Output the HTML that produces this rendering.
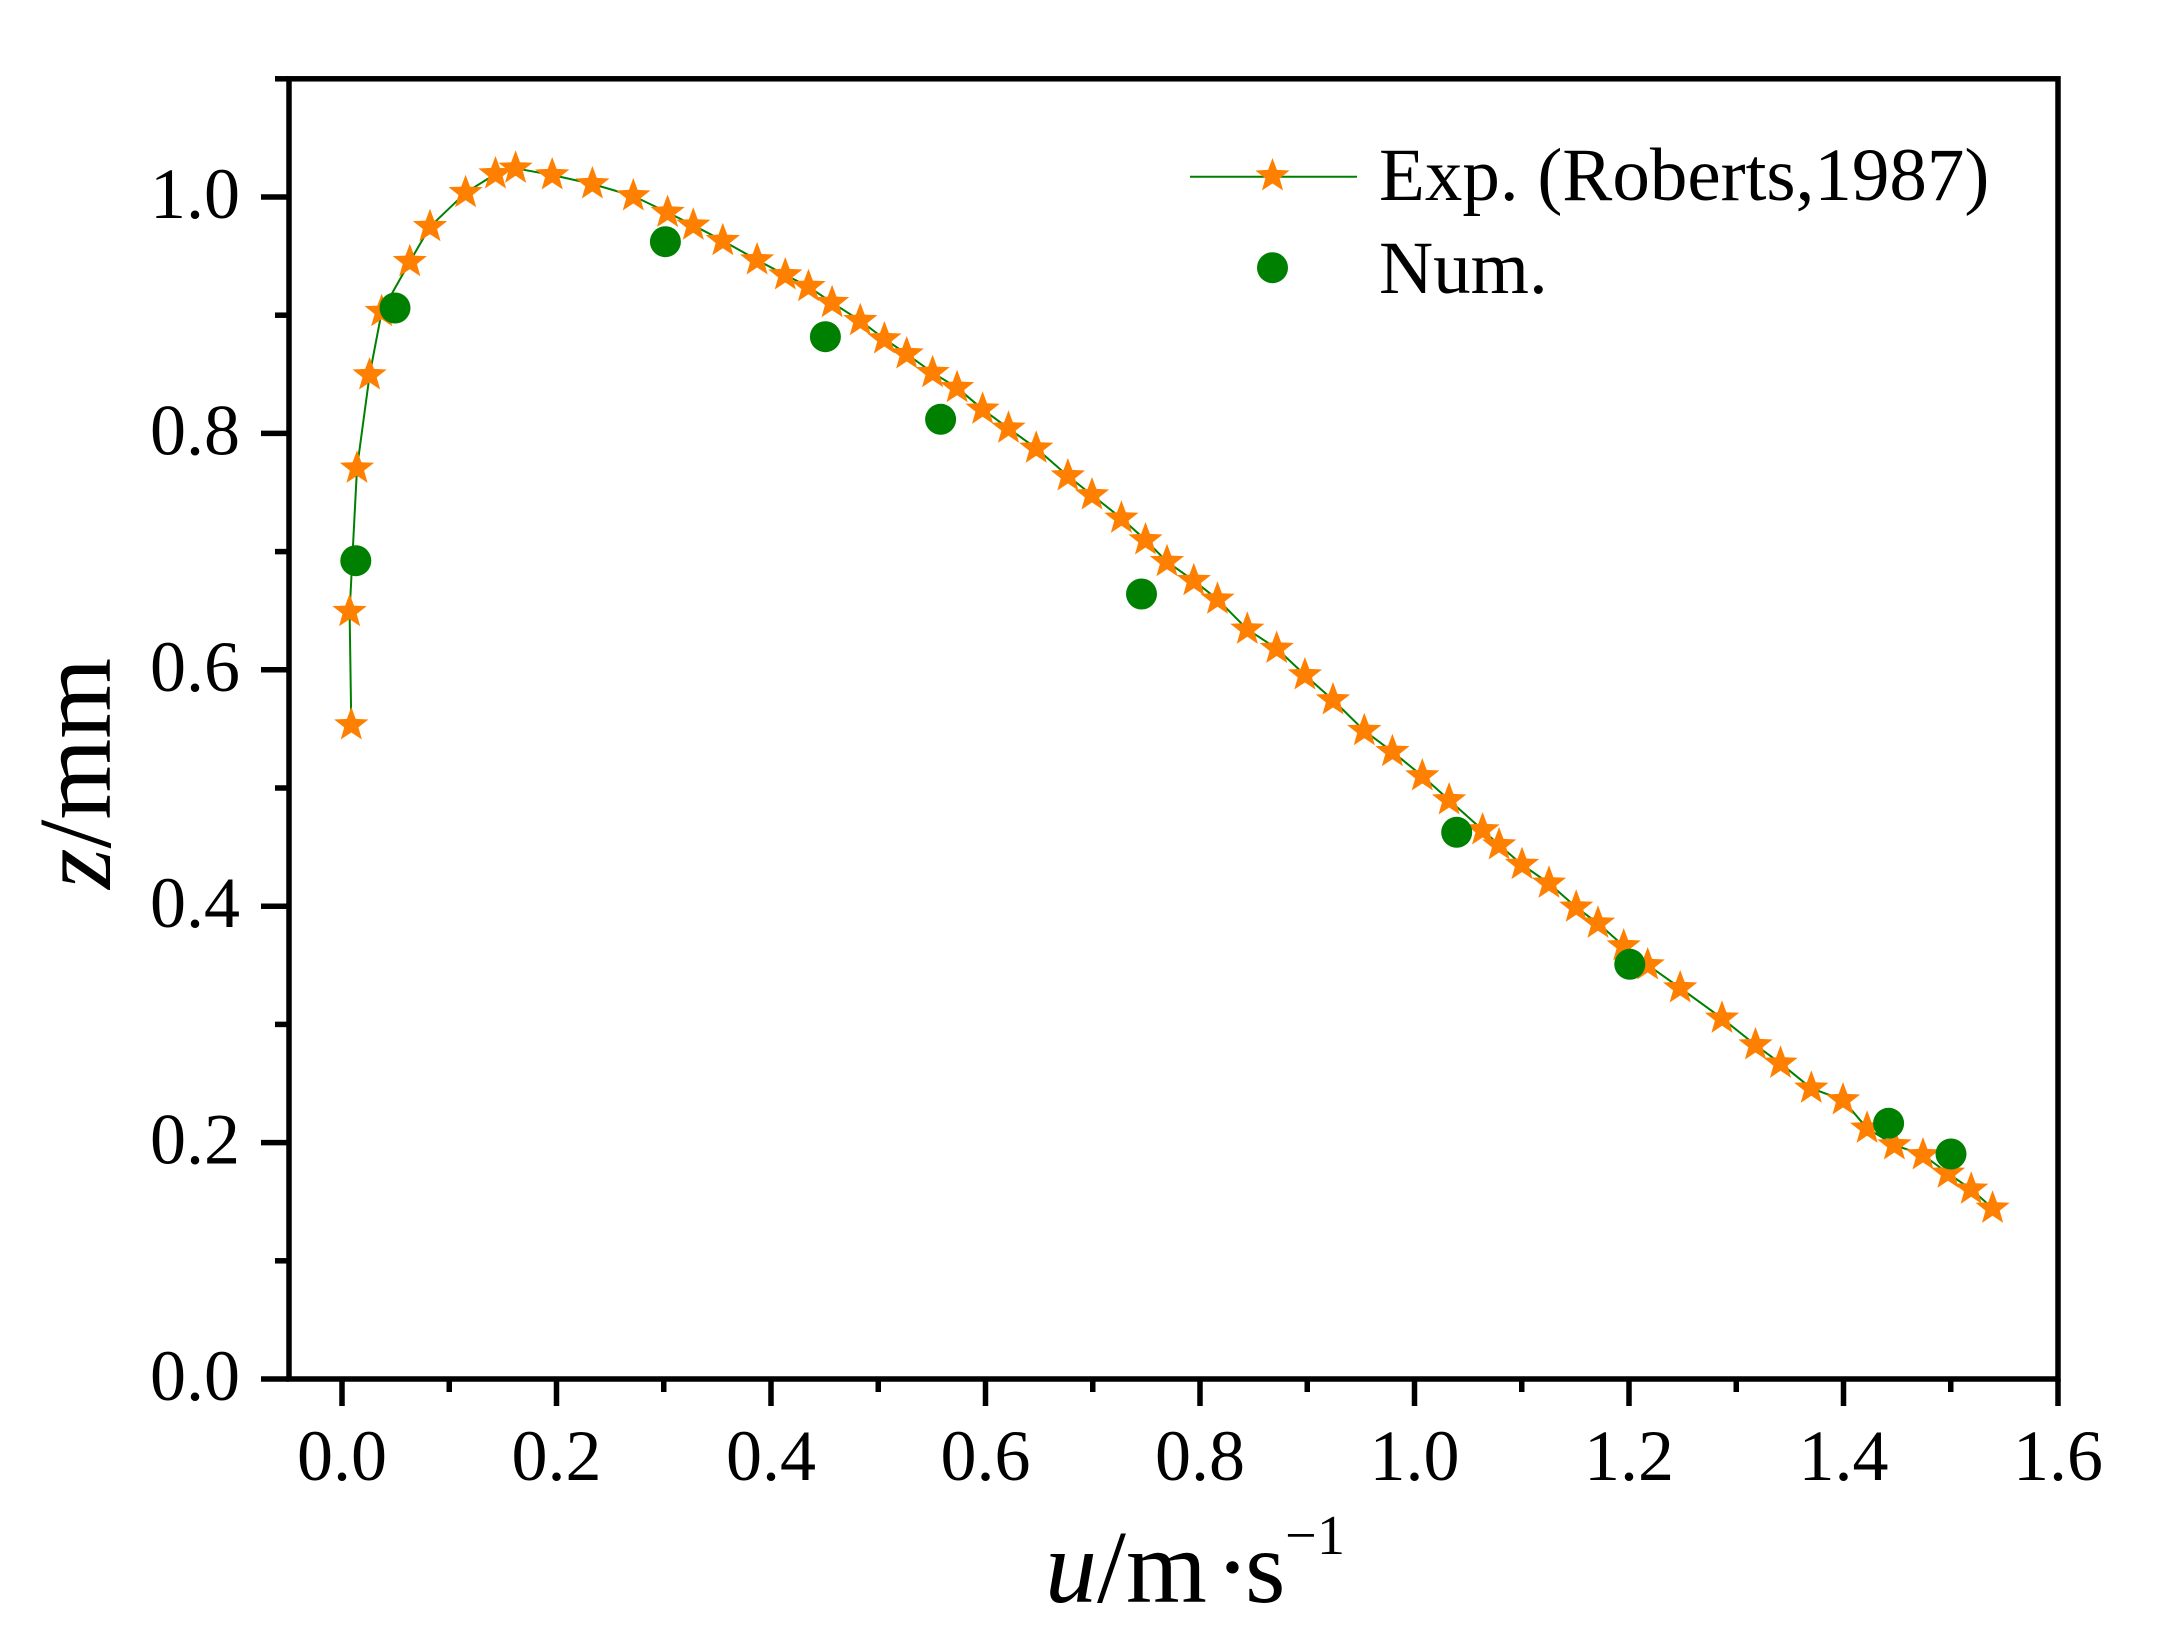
<!DOCTYPE html>
<html><head><meta charset="utf-8"><style>
html,body{margin:0;padding:0;background:#fff;}
svg{display:block;}
text{font-family:"Liberation Serif","Times New Roman",serif;fill:#000;}
</style></head><body>
<svg width="2160" height="1641" viewBox="0 0 2160 1641" xmlns="http://www.w3.org/2000/svg">
<rect width="2160" height="1641" fill="#fff"/>
<defs>
<path id="st" d="M0,-18 L4.41,-6.07 L17.12,-5.56 L7.13,2.32 L10.58,14.56 L0,7.5 L-10.58,14.56 L-7.13,2.32 L-17.12,-5.56 L-4.41,-6.07 Z" fill="#FF8000"/>
</defs>
<!-- frame -->
<rect x="289" y="78.8" width="1769" height="1300.2" fill="none" stroke="#000" stroke-width="5.5"/>
<!-- y ticks -->
<g stroke="#000" stroke-width="5.5">
<line x1="261" y1="1379" x2="289" y2="1379"/>
<line x1="275" y1="1260.8" x2="289" y2="1260.8"/>
<line x1="261" y1="1142.6" x2="289" y2="1142.6"/>
<line x1="275" y1="1024.4" x2="289" y2="1024.4"/>
<line x1="261" y1="906.2" x2="289" y2="906.2"/>
<line x1="275" y1="788" x2="289" y2="788"/>
<line x1="261" y1="669.8" x2="289" y2="669.8"/>
<line x1="275" y1="551.6" x2="289" y2="551.6"/>
<line x1="261" y1="433.4" x2="289" y2="433.4"/>
<line x1="275" y1="315.2" x2="289" y2="315.2"/>
<line x1="261" y1="197" x2="289" y2="197"/>
<line x1="275" y1="78.8" x2="289" y2="78.8"/>
<!-- x ticks -->
<line x1="342" y1="1379" x2="342" y2="1406"/>
<line x1="449.25" y1="1379" x2="449.25" y2="1392"/>
<line x1="556.5" y1="1379" x2="556.5" y2="1406"/>
<line x1="663.75" y1="1379" x2="663.75" y2="1392"/>
<line x1="771" y1="1379" x2="771" y2="1406"/>
<line x1="878.25" y1="1379" x2="878.25" y2="1392"/>
<line x1="985.5" y1="1379" x2="985.5" y2="1406"/>
<line x1="1092.75" y1="1379" x2="1092.75" y2="1392"/>
<line x1="1200" y1="1379" x2="1200" y2="1406"/>
<line x1="1307.25" y1="1379" x2="1307.25" y2="1392"/>
<line x1="1414.5" y1="1379" x2="1414.5" y2="1406"/>
<line x1="1521.75" y1="1379" x2="1521.75" y2="1392"/>
<line x1="1629" y1="1379" x2="1629" y2="1406"/>
<line x1="1736.25" y1="1379" x2="1736.25" y2="1392"/>
<line x1="1843.5" y1="1379" x2="1843.5" y2="1406"/>
<line x1="1950.75" y1="1379" x2="1950.75" y2="1392"/>
<line x1="2058" y1="1379" x2="2058" y2="1406"/>
</g>
<!-- y tick labels -->
<g font-size="72" text-anchor="end">
<text x="240" y="1400">0.0</text>
<text x="240" y="1163.6">0.2</text>
<text x="240" y="927.2">0.4</text>
<text x="240" y="690.8">0.6</text>
<text x="240" y="454.4">0.8</text>
<text x="240" y="218">1.0</text>
</g>
<!-- x tick labels -->
<g font-size="72" text-anchor="middle">
<text x="342" y="1480">0.0</text>
<text x="556.5" y="1480">0.2</text>
<text x="771" y="1480">0.4</text>
<text x="985.5" y="1480">0.6</text>
<text x="1200" y="1480">0.8</text>
<text x="1414.5" y="1480">1.0</text>
<text x="1629" y="1480">1.2</text>
<text x="1843.5" y="1480">1.4</text>
<text x="2058" y="1480">1.6</text>
</g>
<!-- axis titles -->
<text transform="translate(110,889) rotate(-90)" font-size="104"><tspan font-style="italic">z</tspan>/mm</text>
<text x="1045" y="1602" font-size="104" font-style="italic">u</text>
<text x="1097" y="1602" font-size="104">/</text>
<text x="1126" y="1602" font-size="104">m</text>
<text x="1232.5" y="1602" font-size="104" text-anchor="middle">·</text>
<text x="1245" y="1602" font-size="104">s</text>
<text x="1285" y="1554" font-size="56">−</text>
<text x="1317" y="1554" font-size="56">1</text>
<!-- series line -->
<polyline fill="none" stroke="#008000" stroke-width="2" stroke-linejoin="round" points="351.3,725 349.6,611.7 357,468.3 369.6,375 381.7,311.7 409.8,261.7 430,226.7 465.6,192.7 495.5,174 515.6,168.3 552.2,175 592.4,184 633.3,196 667.6,212.5 693.3,225.3 722.8,240.7 757.1,260 785.3,275 808.5,286.7 832.1,302.7 860.3,320.7 884.4,339 906.7,354 932.6,372.7 957.1,387.7 982.6,409.3 1008.5,428.3 1036.2,448.3 1067.9,476 1092,495 1121.4,518.3 1145.5,540 1167,561.7 1193.8,580.7 1217.5,599.3 1247.3,629.3 1276.7,648.5 1304.9,675 1333,700 1364.3,730.7 1392.4,751.7 1422.3,776 1449.1,800 1482.6,830 1499.1,845 1522,864.6 1549,883.3 1576.2,907.3 1598,923.3 1623.7,946 1647.7,965 1680.2,988 1722,1018.3 1755.5,1045 1780.5,1063.3 1811.3,1088.3 1843,1100 1867.1,1128.3 1894.4,1145 1923,1155 1948,1173.3 1971.2,1189.3 1992.6,1208.3"/>
<!-- stars -->
<g>
<use href="#st" x="351.3" y="725"/><use href="#st" x="349.6" y="611.7"/><use href="#st" x="357" y="468.3"/><use href="#st" x="369.6" y="375"/><use href="#st" x="381.7" y="311.7"/><use href="#st" x="409.8" y="261.7"/><use href="#st" x="430" y="226.7"/><use href="#st" x="465.6" y="192.7"/><use href="#st" x="495.5" y="174"/><use href="#st" x="515.6" y="168.3"/><use href="#st" x="552.2" y="175"/><use href="#st" x="592.4" y="184"/><use href="#st" x="633.3" y="196"/><use href="#st" x="667.6" y="212.5"/><use href="#st" x="693.3" y="225.3"/><use href="#st" x="722.8" y="240.7"/><use href="#st" x="757.1" y="260"/><use href="#st" x="785.3" y="275"/><use href="#st" x="808.5" y="286.7"/><use href="#st" x="832.1" y="302.7"/><use href="#st" x="860.3" y="320.7"/><use href="#st" x="884.4" y="339"/><use href="#st" x="906.7" y="354"/><use href="#st" x="932.6" y="372.7"/><use href="#st" x="957.1" y="387.7"/><use href="#st" x="982.6" y="409.3"/><use href="#st" x="1008.5" y="428.3"/><use href="#st" x="1036.2" y="448.3"/><use href="#st" x="1067.9" y="476"/><use href="#st" x="1092" y="495"/><use href="#st" x="1121.4" y="518.3"/><use href="#st" x="1145.5" y="540"/><use href="#st" x="1167" y="561.7"/><use href="#st" x="1193.8" y="580.7"/><use href="#st" x="1217.5" y="599.3"/><use href="#st" x="1247.3" y="629.3"/><use href="#st" x="1276.7" y="648.5"/><use href="#st" x="1304.9" y="675"/><use href="#st" x="1333" y="700"/><use href="#st" x="1364.3" y="730.7"/><use href="#st" x="1392.4" y="751.7"/><use href="#st" x="1422.3" y="776"/><use href="#st" x="1449.1" y="800"/><use href="#st" x="1482.6" y="830"/><use href="#st" x="1499.1" y="845"/><use href="#st" x="1522" y="864.6"/><use href="#st" x="1549" y="883.3"/><use href="#st" x="1576.2" y="907.3"/><use href="#st" x="1598" y="923.3"/><use href="#st" x="1623.7" y="946"/><use href="#st" x="1647.7" y="965"/><use href="#st" x="1680.2" y="988"/><use href="#st" x="1722" y="1018.3"/><use href="#st" x="1755.5" y="1045"/><use href="#st" x="1780.5" y="1063.3"/><use href="#st" x="1811.3" y="1088.3"/><use href="#st" x="1843" y="1100"/><use href="#st" x="1867.1" y="1128.3"/><use href="#st" x="1894.4" y="1145"/><use href="#st" x="1923" y="1155"/><use href="#st" x="1948" y="1173.3"/><use href="#st" x="1971.2" y="1189.3"/><use href="#st" x="1992.6" y="1208.3"/>
</g>
<!-- circles -->
<g fill="#008000">
<circle cx="355.8" cy="560.7" r="15.5"/>
<circle cx="395" cy="308" r="15.5"/>
<circle cx="665.4" cy="241.7" r="15.5"/>
<circle cx="825.4" cy="336.7" r="15.5"/>
<circle cx="940.6" cy="419.3" r="15.5"/>
<circle cx="1141.5" cy="594" r="15.5"/>
<circle cx="1456.7" cy="832.3" r="15.5"/>
<circle cx="1629.8" cy="964.3" r="15.5"/>
<circle cx="1888.6" cy="1123.3" r="15.5"/>
<circle cx="1951" cy="1154" r="15.5"/>
</g>
<!-- legend -->
<line x1="1190" y1="176.7" x2="1357" y2="176.7" stroke="#008000" stroke-width="2"/>
<use href="#st" x="1272.5" y="176"/>
<circle cx="1272.5" cy="267.7" r="15.5" fill="#008000"/>
<text x="1379" y="200" font-size="75">Exp. (Roberts,1987)</text>
<text x="1379" y="293" font-size="75">Num.</text>
</svg>
</body></html>
